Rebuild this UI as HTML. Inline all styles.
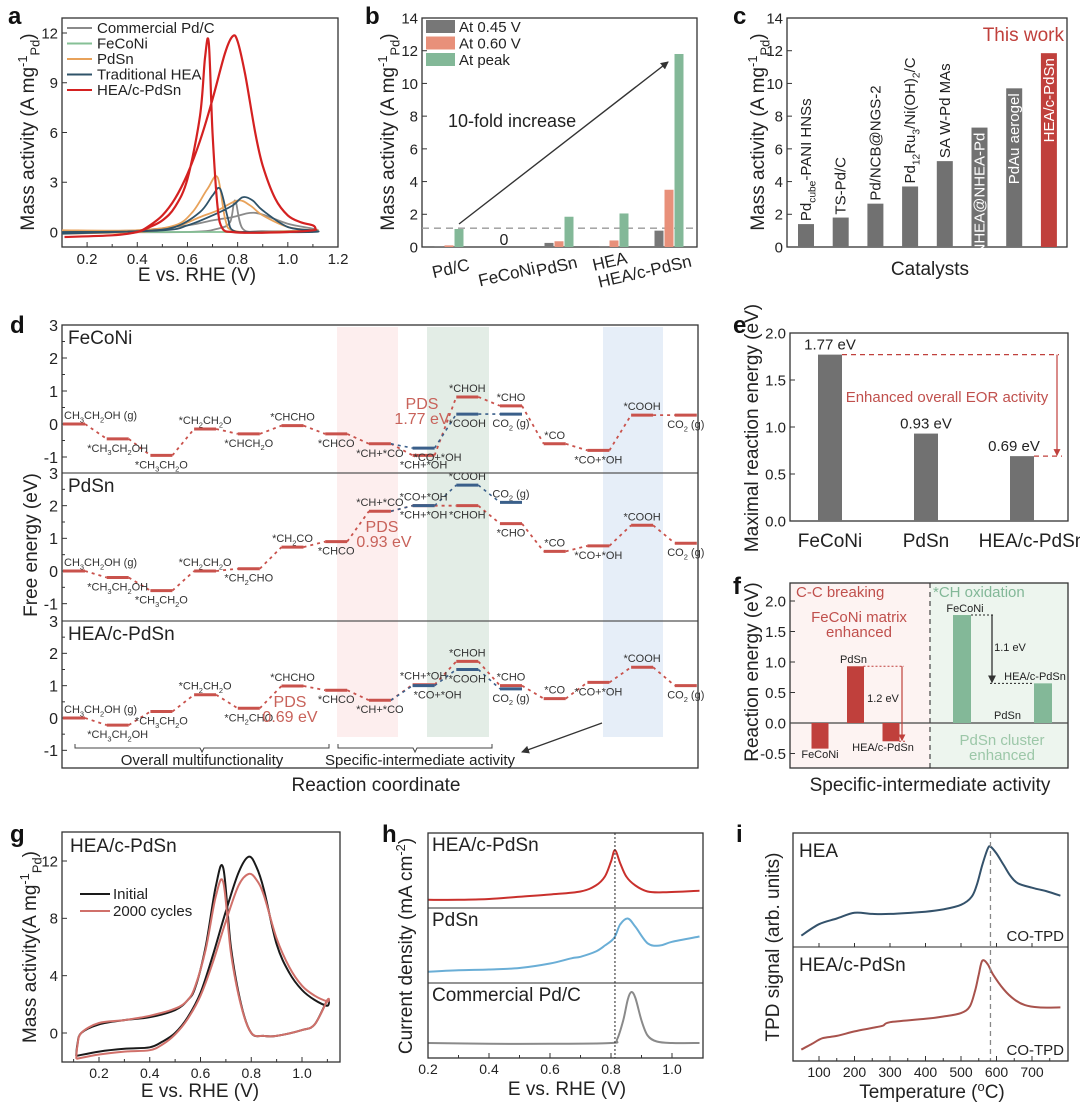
<!DOCTYPE html>
<html><head><meta charset="utf-8">
<style>
html,body{margin:0;padding:0;background:#fff;}
svg{display:block;font-family:"Liberation Sans",Arial,sans-serif;}
</style></head>
<body>
<svg id="fig" width="1080" height="1108" viewBox="0 0 1080 1108" xmlns="http://www.w3.org/2000/svg">
<defs>
<marker id="arrB" markerWidth="8" markerHeight="8" refX="7" refY="4" orient="auto" markerUnits="userSpaceOnUse"><path d="M0,0 L8,4 L0,8 z" fill="#333"/></marker>
<marker id="arrR" markerWidth="7" markerHeight="7" refX="6" refY="3.5" orient="auto" markerUnits="userSpaceOnUse"><path d="M0,0 L7,3.5 L0,7 z" fill="#c0403c"/></marker>
</defs>
</svg>
<script>
// ---------- DATA ----------
// panel a
const aRedX=[0.11,0.3,0.4,0.45,0.5,0.55,0.6,0.65,0.7,0.75,0.78,0.8,0.83,0.87,0.9,0.95,1.0,1.05,1.1,1.11,1.1,1.0,0.85,0.78,0.74,0.72,0.70,0.685,0.67,0.65,0.6,0.55,0.5,0.45,0.4,0.3,0.11];
const aRedY=[-0.3,-0.2,0,0.4,1,2,3.5,5.5,8,10.8,11.8,11.5,9.5,6,4,2,1,0.6,0.4,0.2,0.1,0,-0.05,0,0.2,1.5,6,11.4,10.5,7,3.2,1.5,0.7,0.3,0,-0.2,-0.3];
const aGrayX=[0.1,0.4,0.6,0.7,0.78,0.85,0.9,1.0,1.1,1.1,0.9,0.82,0.79,0.77,0.72,0.6,0.1];
const aGrayY=[0,0.1,0.4,0.7,0.9,1.15,1.05,0.5,0.2,0.1,0.05,0.2,1.9,0.6,0.2,0,0];
const aGreenX=[0.1,0.6,1.1];
const aGreenY=[0,0,0];
const aOrX=[0.1,0.4,0.55,0.65,0.72,0.8,0.85,0.9,1.0,1.1,1.1,0.9,0.78,0.75,0.72,0.68,0.62,0.55,0.4,0.1];
const aOrY=[-0.1,0,0.3,0.9,1.3,1.9,1.6,1.0,0.3,0.1,0.1,0,0.1,0.8,3.3,2.6,1.2,0.4,0.1,0.1];
const aBlX=[0.1,0.5,0.6,0.7,0.78,0.82,0.86,0.9,1.0,1.1,1.1,0.85,0.78,0.76,0.73,0.7,0.65,0.55,0.4,0.1];
const aBlY=[-0.1,0.1,0.4,1.0,1.6,2.1,1.9,1.3,0.3,0.1,0,0,0.1,0.9,2.6,2.2,1.2,0.3,0.05,0];
const aLegend=['Commercial Pd/C','FeCoNi','PdSn','Traditional HEA','HEA/c-PdSn'];
// panel b
const bCats=['Pd/C','FeCoNi','PdSn','HEA','HEA/c-PdSn'];
const bV045=[0.05,0,0.25,0.05,1.0];
const bV060=[0.1,0,0.35,0.4,3.5];
const bVpeak=[1.1,0,1.85,2.05,11.8];
const bRef=1.15;
const bTicks=[0,2,4,6,8,10,12,14];
// panel c
const cCats=['Pd_{cube}-PANI HNSs','TS-Pd/C','Pd/NCB@NGS-2','Pd_{12}Ru_{3}/Ni(OH)_{2}/C','SA W-Pd MAs','NHEA@NHEA-Pd','PdAu aerogel','HEA/c-PdSn'];
const cVals=[1.4,1.8,2.65,3.7,5.25,7.3,9.7,11.85];
const cTicks=[0,2,4,6,8,10,12,14];
// panel d
const dSteps=['CH3CH2OH (g)','*CH3CH2OH','*CH3CH2O','*CH2CH2O','X','X','*CHCO','*CH+*CO','*CH+*OH','*CHOH','*CHO','*CO','*CO+*OH','*COOH','CO2 (g)'];
const dStep45Fe=['*CHCH2O','*CHCHO'];
const dStep45Pd=['*CH2CHO','*CH2CO'];
const dStep45Hea=['*CH2CHO','*CHCHO'];
const dFeRed=[0,-0.45,-0.95,-0.15,-0.3,-0.05,-0.3,-0.6,-0.95,0.82,0.55,-0.6,-0.8,0.27,0.27];
const dPdRed=[0,-0.2,-0.6,0,0.07,0.73,0.9,1.83,2.0,2.0,1.45,0.6,0.77,1.4,0.85];
const dHeaRed=[0,-0.22,0.2,0.72,0.3,0.99,0.86,0.55,1.03,1.75,1.0,0.6,1.1,1.57,1.0];
const dBlueSteps=[8,9,10];
const dBlueLabels=['*CO+*OH','*COOH','CO2 (g)'];
const dFeBlue=[-0.73,0.3,0.3];
const dPdBlue=[2.0,2.63,2.1];
const dHeaBlue=[1.0,1.5,0.9];
const dFeSide=[1,0,0,1,0,1,0,0,0,1,1,1,0,1,0];
const dPdSide=[1,0,0,1,0,1,0,1,0,0,0,1,0,1,0];
const dHeaSide=[1,0,0,1,0,1,0,0,1,1,1,1,0,1,0];
const dFeBlueSide=[0,0,0];
const dPdBlueSide=[1,1,1];
const dHeaBlueSide=[0,0,0];
const dTicks=[3,2,1,0,-1];
// panel e
const eCats=['FeCoNi','PdSn','HEA/c-PdSn'];
const eVals=[1.77,0.93,0.69];
const eTicks=[0,0.5,1.0,1.5,2.0];
// panel f
const fLeftNames=['FeCoNi','PdSn','HEA/c-PdSn'];
const fLeftVals=[-0.42,0.93,-0.3];
const fRightNames=['FeCoNi','PdSn','HEA/c-PdSn'];
const fRightVals=[1.77,0.0,0.65];
const fTicks=[-0.5,0,0.5,1.0,1.5,2.0];
// panel g
const gInitX=[0.11,0.2,0.3,0.4,0.45,0.5,0.55,0.6,0.65,0.7,0.75,0.79,0.82,0.85,0.9,0.95,1.0,1.05,1.1,1.1,1.05,1.0,0.9,0.85,0.8,0.76,0.72,0.69,0.66,0.62,0.58,0.55,0.5,0.4,0.3,0.2,0.13,0.115,0.11];
const gInitY=[-1.6,-1.3,-1.1,-1.0,-0.6,0,1.1,2.8,5.5,8.5,11.2,12.3,11.6,10,6.2,4.2,3,2.3,1.9,2.3,0.6,0.2,-0.2,-0.2,0,2,6,11.5,10.2,6,3.2,2.3,1.6,1.1,0.9,0.6,0,-0.8,-1.6];
const gCycX=[0.11,0.2,0.3,0.4,0.45,0.5,0.55,0.6,0.65,0.7,0.75,0.79,0.82,0.85,0.9,0.95,1.0,1.05,1.1,1.1,1.05,1.0,0.9,0.85,0.8,0.76,0.72,0.69,0.66,0.62,0.58,0.55,0.5,0.4,0.3,0.2,0.13,0.115,0.11];
const gCycY=[-1.8,-1.5,-1.3,-1.2,-0.8,-0.1,1.0,2.6,5.0,7.8,10.3,11.1,10.7,9.6,6.6,4.6,3.3,2.6,2.2,2.3,0.6,0.2,-0.2,-0.2,0,1.9,5.6,10.5,9.5,5.8,3.3,2.3,1.7,1.2,0.9,0.7,0,-0.9,-1.8];
const gTicksY=[0,4,8,12];
const gTicksX=[0.2,0.4,0.6,0.8,1.0];
// panel h (normalized intensity per sub-panel)
const hRedX=[0.2,0.3,0.4,0.5,0.6,0.7,0.75,0.78,0.8,0.813,0.83,0.85,0.88,0.92,0.97,1.09];
const hRedY=[0.11,0.11,0.12,0.15,0.18,0.22,0.3,0.42,0.62,0.77,0.6,0.42,0.3,0.22,0.21,0.23];
const hBlueX=[0.2,0.3,0.4,0.5,0.6,0.67,0.7,0.75,0.78,0.81,0.83,0.855,0.88,0.92,0.96,1.0,1.09];
const hBlueY=[0.15,0.17,0.18,0.2,0.26,0.33,0.35,0.42,0.5,0.6,0.78,0.86,0.75,0.53,0.5,0.55,0.62];
const hGrayX=[0.2,0.4,0.6,0.8,0.82,0.84,0.855,0.867,0.88,0.9,0.92,0.95,1.0,1.09];
const hGrayY=[0.2,0.19,0.19,0.2,0.25,0.5,0.78,0.88,0.8,0.5,0.3,0.22,0.2,0.2];
const hTicksX=[0.2,0.4,0.6,0.8,1.0];
const hPeakLine=0.813;
// panel i
const iHeaX=[50,100,150,200,250,300,400,450,500,530,545,560,575,583,600,620,640,660,700,740,780];
const iHeaY=[0.1,0.2,0.25,0.3,0.29,0.29,0.31,0.33,0.37,0.44,0.55,0.72,0.86,0.88,0.82,0.72,0.62,0.56,0.52,0.49,0.45];
const iPdX=[50,80,110,150,200,250,280,300,400,450,500,525,540,550,560,575,590,620,650,680,720,780];
const iPdY=[0.1,0.15,0.2,0.22,0.26,0.29,0.31,0.34,0.37,0.39,0.42,0.48,0.62,0.76,0.88,0.85,0.76,0.63,0.54,0.49,0.47,0.47];
const iTicksX=[100,200,300,400,500,600,700];
const iDash=583;

// ---------- HELPERS ----------
const NS='http://www.w3.org/2000/svg';
const svg=document.getElementById('fig');
function mk(tag,attrs,name,parent){
  const el=document.createElementNS(NS,tag);
  for(const k in attrs) el.setAttribute(k,attrs[k]);
  
  
  (parent||svg).appendChild(el);
  return el;
}
function lin(d0,d1,r0,r1){return v=>r0+(v-d0)*(r1-r0)/(d1-d0);}
function rich(x,y,s,size,opts,name){
  const o=Object.assign({anchor:'start',fill:'#222',rot:0,weight:'normal'},opts||{});
  const at={x:x,y:y,'font-size':size,'text-anchor':o.anchor,fill:o.fill,'font-weight':o.weight};
  if(o.rot) at.transform='rotate('+o.rot+' '+x+' '+y+')';
  const t=mk('text',at,name);
  const re=/_\{([^}]*)\}|\^\{([^}]*)\}|([^_^]+)/g;let m;let shift=0;
  while((m=re.exec(s))){
    const sp=document.createElementNS(NS,'tspan');
    let target=0,fs=size;
    if(m[1]!==undefined){target=size*0.3;fs=size*0.68;sp.textContent=m[1];}
    else if(m[2]!==undefined){target=-size*0.38;fs=size*0.68;sp.textContent=m[2];}
    else {sp.textContent=m[3];}
    sp.setAttribute('dy',target-shift);shift=target;
    sp.setAttribute('font-size',fs);
    t.appendChild(sp);
  }
  return t;
}
function chem(s){return s.replace(/(\d)/g,'_{$1}');}
function frame(x0,y0,x1,y1,name){mk('rect',{x:x0,y:y0,width:x1-x0,height:y1-y0,fill:'none',stroke:'#333','stroke-width':1.3},name);}
// smooth Catmull-Rom path through data points
function pathD(xs,ys,sx,sy){
  const p=xs.map((v,i)=>[sx(v),sy(ys[i])]);
  let d='M'+p[0][0].toFixed(1)+','+p[0][1].toFixed(1);
  const t=0.5/3;
  for(let i=0;i<p.length-1;i++){
    const p0=p[Math.max(i-1,0)],p1=p[i],p2=p[i+1],p3=p[Math.min(i+2,p.length-1)];
    const c1=[p1[0]+(p2[0]-p0[0])*t,p1[1]+(p2[1]-p0[1])*t];
    const c2=[p2[0]-(p3[0]-p1[0])*t,p2[1]-(p3[1]-p1[1])*t];
    d+=' C'+c1[0].toFixed(1)+','+c1[1].toFixed(1)+' '+c2[0].toFixed(1)+','+c2[1].toFixed(1)+' '+p2[0].toFixed(1)+','+p2[1].toFixed(1);
  }
  return d;
}
function xTicks(sx,vals,yb,fmt,size,name,len){vals.forEach(v=>{const x=sx(v);
  mk('line',{x1:x,x2:x,y1:yb,y2:yb-(len||5),stroke:'#333','stroke-width':1},name+'-tick');
  if(fmt) rich(x,yb+size+2,fmt(v),size,{anchor:'middle'},name+'-label');});}
function yTicks(sy,vals,xl,fmt,size,name,len){vals.forEach(v=>{const y=sy(v);
  mk('line',{x1:xl,x2:xl+(len||5),y1:y,y2:y,stroke:'#333','stroke-width':1},name+'-tick');
  if(fmt) rich(xl-4,y+size*0.36,fmt(v),size,{anchor:'end'},name+'-label');});}

// panel letters
[['a',8,24],['b',365,24],['c',733,24],['d',10,333],['e',733,333],['f',733,594],['g',10,842],['h',382,842],['i',736,842]].forEach(p=>{
  rich(p[1],p[2],p[0],24,{weight:'bold',fill:'#111'},'panel-letter-'+p[0]);});

// ---------- PANEL A ----------
(function(){
  const sx=lin(0.1,1.2,62,338), sy=lin(0,12,232,33);
  frame(62,18,338,247,'panel-a-frame');
  xTicks(sx,[0.2,0.4,0.6,0.8,1.0,1.2],247,v=>v.toFixed(1),15,'a-x');
  xTicks(sx,[0.3,0.5,0.7,0.9,1.1],247,null,15,'a-x-minor',3);
  yTicks(sy,[0,3,6,9,12],62,v=>String(v),15,'a-y');
  const series=[[aGrayX,aGrayY,'#8a8a8a','series-commercial-pdc'],[aGreenX,aGreenY,'#86c096','series-feconi'],[aOrX,aOrY,'#e8a25a','series-pdsn'],[aBlX,aBlY,'#2f5369','series-traditional-hea'],[aRedX,aRedY,'#d42121','series-hea-c-pdsn']];
  series.forEach(s=>{mk('path',{d:pathD(s[0],s[1],sx,sy),fill:'none',stroke:s[2],'stroke-width':s[2]==='#d42121'?2.2:1.8,'stroke-linejoin':'round'},s[3]);});
  const cols=['#8a8a8a','#86c096','#e8a25a','#2f5369','#d42121'];
  aLegend.forEach((l,i)=>{const y=28+i*15.5;
    mk('line',{x1:67,x2:92,y1:y,y2:y,stroke:cols[i],'stroke-width':2},'legend-line');
    rich(97,y+5,l,15,{},'legend-entry');});
  rich(197,281,'E vs. RHE (V)',19,{anchor:'middle'},'a-x-axis-title');
  rich(34,132,'Mass activity (A mg^{-1}_{Pd})',19,{anchor:'middle',rot:-90},'a-y-axis-title');
})();

// ---------- PANEL B ----------
(function(){
  const sy=lin(0,14,247,18); const cx=i=>449+i*55;
  frame(422,18,697,247,'panel-b-frame');
  yTicks(sy,bTicks,422,v=>String(v),15,'b-y');
  mk('line',{x1:422,x2:697,y1:sy(bRef),y2:sy(bRef),stroke:'#999','stroke-width':1.3,'stroke-dasharray':'7 5'},'b-reference-line');
  const sets=[[bV045,-10,'#777'],[bV060,0,'#e8907a'],[bVpeak,10,'#83b898']];
  sets.forEach((s,k)=>{s[0].forEach((v,i)=>{
    const b=mk('rect',{x:cx(i)+s[1]-4.5,y:sy(v),width:9,height:sy(0)-sy(v),fill:s[2]},'bar');
    });});
  rich(cx(1),245,'0',16,{anchor:'middle'},'b-zero-label');
  mk('line',{x1:459,y1:224,x2:668,y2:62,stroke:'#333','stroke-width':1.4,'marker-end':'url(#arrB)'},'b-increase-arrow');
  rich(448,127,'10-fold increase',18,{},'b-annotation');
  const lc=['#777','#e8907a','#83b898'],ll=['At 0.45 V','At 0.60 V','At peak'];
  ll.forEach((l,i)=>{const y=27+i*16.5;
    mk('rect',{x:426,y:y-7,width:29,height:13,fill:lc[i]},'legend-swatch');
    rich(459,y+5,l,15,{},'legend-entry');});
  [[452,274],[508,280],[558,272],[611,267],[646,277]].forEach((p,i)=>{rich(p[0],p[1],bCats[i],17,{anchor:'middle',rot:-13},'b-category-label');});
  rich(394,132,'Mass activity (A mg^{-1}_{Pd})',19,{anchor:'middle',rot:-90},'b-y-axis-title');
})();

// ---------- PANEL C ----------
(function(){
  const sy=lin(0,14,247,18); const cx=i=>806+i*34.7;
  frame(787,18,1067,247,'panel-c-frame');
  yTicks(sy,cTicks,787,v=>String(v),15,'c-y');
  cVals.forEach((v,i)=>{
    const b=mk('rect',{x:cx(i)-8,y:sy(v),width:16,height:sy(0)-sy(v),fill:i===7?'#c0403c':'#717171'},'bar');
    
    if(i<5) rich(cx(i)+5,sy(v)-3,cCats[i],15,{rot:-90},'c-bar-label');
    else rich(cx(i)+5,sy(v)+5,cCats[i],15,{rot:-90,anchor:'end',fill:'#fff'},'c-bar-label');
  });
  rich(1064,41,'This work',19,{anchor:'end',fill:'#c0403c'},'c-this-work-label');
  rich(930,275,'Catalysts',19,{anchor:'middle'},'c-x-axis-title');
  rich(764,132,'Mass activity (A mg^{-1}_{Pd})',19,{anchor:'middle',rot:-90},'c-y-axis-title');
})();

// ---------- PANEL D ----------
(function(){
  const L=62,R=698,T=325,B=768;
  [[337,398,'#fdeeee'],[427,489,'#e3ede6'],[603,663,'#e6eef8']].forEach((b,i)=>{
    mk('rect',{x:b[0],y:327,width:b[1]-b[0],height:410,fill:b[2]},'d-highlight-band-'+i);});
  const sx=i=>63+i*43.7; const W=22;
  const subs=[{name:'FeCoNi',top:325,zero:424,red:dFeRed,blue:dFeBlue,side:dFeSide,bside:dFeBlueSide,s45:dStep45Fe},
              {name:'PdSn',top:473,zero:571,red:dPdRed,blue:dPdBlue,side:dPdSide,bside:dPdBlueSide,s45:dStep45Pd},
              {name:'HEA/c-PdSn',top:621,zero:718,red:dHeaRed,blue:dHeaBlue,side:dHeaSide,bside:dHeaBlueSide,s45:dStep45Hea}];
  const red='#c9524c',blue='#3a5f8a';
  subs.forEach((s,k)=>{
    const sy=lin(0,3,s.zero,s.top);
    yTicks(sy,dTicks,L,v=>String(v),16,'d-y');
    yTicks(sy,[2.5,1.5,0.5,-0.5],L,null,16,'d-y-minor',3);
    rich(68,s.top+19,s.name,19,{},'d-subpanel-title');
    for(let i=0;i<s.red.length-1;i++){
      mk('line',{x1:sx(i)+W,y1:sy(s.red[i]),x2:sx(i+1),y2:sy(s.red[i+1]),stroke:red,'stroke-width':1.8,'stroke-dasharray':'3 4'},'d-connector');}
    let px=sx(7)+W,py=sy(s.red[7]);
    dBlueSteps.forEach((st,j)=>{const y=sy(s.blue[j]);
      mk('line',{x1:px,y1:py,x2:sx(st),y2:y,stroke:blue,'stroke-width':1.6,'stroke-dasharray':'3 4'},'d-blue-connector');
      px=sx(st)+W;py=y;});
    s.red.forEach((e,i)=>{const y=sy(e);
      const l=mk('line',{x1:sx(i),x2:sx(i)+W,y1:y,y2:y,stroke:red,'stroke-width':3},'level');
      
      let lab=dSteps[i]; if(i===4) lab=s.s45[0]; if(i===5) lab=s.s45[1];
      const up=s.side[i]===1; const ty=up?y-5:y+13;
      if(i===0) rich(sx(i)+1,ty,chem(lab),11,{fill:'#333'},'d-level-label');
      else rich(sx(i)+W/2,ty,chem(lab),11,{anchor:'middle',fill:'#333'},'d-level-label');
    });
    dBlueSteps.forEach((st,j)=>{const y=sy(s.blue[j]);
      const l=mk('line',{x1:sx(st),x2:sx(st)+W,y1:y,y2:y,stroke:blue,'stroke-width':3},'level');
      
      const up=s.bside[j]===1; const ty=up?y-5:y+13;
      rich(sx(st)+W/2+(j===0&&!up?14:0),ty,chem(dBlueLabels[j]),11,{anchor:'middle',fill:'#333'},'d-level-label');
    });
  });
  mk('line',{x1:L,x2:R,y1:473,y2:473,stroke:'#555','stroke-width':1.3},'d-divider');
  mk('line',{x1:L,x2:R,y1:621,y2:621,stroke:'#555','stroke-width':1.3},'d-divider');
  frame(L,T,R,B,'panel-d-frame');
  const pc='#c8625a';
  rich(422,409,'PDS',16,{anchor:'middle',fill:pc},'d-pds-label');
  rich(422,424,'1.77 eV',16,{anchor:'middle',fill:pc},'d-pds-value');
  rich(382,532,'PDS',16,{anchor:'middle',fill:pc},'d-pds-label');
  rich(384,547,'0.93 eV',16,{anchor:'middle',fill:pc},'d-pds-value');
  rich(290,707,'PDS',16,{anchor:'middle',fill:pc},'d-pds-label');
  rich(290,722,'0.69 eV',16,{anchor:'middle',fill:pc},'d-pds-value');
  mk('path',{d:'M75,744 v4 H200 l2,4 l2,-4 H329 v-4',fill:'none',stroke:'#444','stroke-width':1},'d-bracket-overall');
  mk('path',{d:'M338,744 v4 H413 l2,4 l2,-4 H492 v-4',fill:'none',stroke:'#444','stroke-width':1},'d-bracket-specific');
  rich(202,765,'Overall multifunctionality',15,{anchor:'middle'},'d-bracket-label');
  rich(420,765,'Specific-intermediate activity',15,{anchor:'middle'},'d-bracket-label');
  mk('line',{x1:602,y1:723,x2:522,y2:752,stroke:'#333','stroke-width':1.2,'marker-end':'url(#arrB)'},'d-pointer-arrow');
  rich(376,791,'Reaction coordinate',19,{anchor:'middle'},'d-x-axis-title');
  rich(37,545,'Free energy (eV)',19,{anchor:'middle',rot:-90},'d-y-axis-title');
})();

// ---------- PANEL E ----------
(function(){
  const sy=lin(0,2,521,333); const cx=i=>830+i*96;
  frame(790,333,1068,521,'panel-e-frame');
  yTicks(sy,eTicks,790,v=>v.toFixed(1),15,'e-y');
  eVals.forEach((v,i)=>{
    const b=mk('rect',{x:cx(i)-12,y:sy(v),width:24,height:sy(0)-sy(v),fill:'#717171'},'bar');
    
    rich(cx(i)+(i===2?-8:0),sy(v)-5,v.toFixed(2)+' eV',15,{anchor:'middle'},'e-value-label');
    rich(cx(i)+(i===2?10:0),547,eCats[i],19,{anchor:'middle'},'e-category-label');
  });
  const rc='#c0403c';
  mk('line',{x1:cx(0)+12,x2:1059,y1:sy(eVals[0]),y2:sy(eVals[0]),stroke:rc,'stroke-width':1.2,'stroke-dasharray':'5 4'},'e-dash-line');
  mk('line',{x1:cx(2)+12,x2:1062,y1:sy(eVals[2]),y2:sy(eVals[2]),stroke:rc,'stroke-width':1.2,'stroke-dasharray':'5 4'},'e-dash-line');
  mk('line',{x1:1057,x2:1057,y1:sy(eVals[0]),y2:sy(eVals[2])-1,stroke:rc,'stroke-width':1.2,'marker-end':'url(#arrR)'},'e-arrow');
  rich(947,402,'Enhanced overall EOR activity',15,{anchor:'middle',fill:'#c0504d'},'e-annotation');
  rich(758,428,'Maximal reaction energy (eV)',19,{anchor:'middle',rot:-90},'e-y-axis-title');
})();

// ---------- PANEL F ----------
(function(){
  const sy=lin(0,2,723,601);
  mk('rect',{x:790,y:583,width:140,height:185,fill:'#fdf3f2'},'f-left-background');
  mk('rect',{x:930,y:583,width:138,height:185,fill:'#edf5ee'},'f-right-background');
  mk('line',{x1:930,x2:930,y1:583,y2:768,stroke:'#444','stroke-width':1.2,'stroke-dasharray':'5 4'},'f-separator');
  frame(790,583,1068,768,'panel-f-frame');
  yTicks(sy,fTicks,790,v=>v.toFixed(1),15,'f-y');
  mk('line',{x1:790,x2:1068,y1:sy(0),y2:sy(0),stroke:'#444','stroke-width':1.2},'f-zero-line');
  const lx=i=>820+i*35.5, rx=i=>962+i*40.5;
  fLeftVals.forEach((v,i)=>{const y0=sy(Math.max(v,0)),y1=sy(Math.min(v,0));
    const b=mk('rect',{x:lx(i)-8.5,y:y0,width:17,height:y1-y0,fill:'#c0403c'},'bar');
    });
  fRightVals.forEach((v,i)=>{const y0=sy(Math.max(v,0)),y1=sy(Math.min(v,0));
    const b=mk('rect',{x:rx(i)-9,y:y0,width:18,height:Math.max(y1-y0,0),fill:'#83b898'},'bar');
    });
  rich(lx(0),758,fLeftNames[0],11,{anchor:'middle'},'f-bar-label');
  rich(lx(1)-2,663,fLeftNames[1],11,{anchor:'middle'},'f-bar-label');
  rich(lx(2)-8,751,fLeftNames[2],11,{anchor:'middle'},'f-bar-label');
  rich(rx(0)+3,612,fRightNames[0],11,{anchor:'middle'},'f-bar-label');
  rich(rx(1)+5,719,fRightNames[1],11,{anchor:'middle'},'f-bar-label');
  rich(rx(2)-8,680,fRightNames[2],11,{anchor:'middle'},'f-bar-label');
  mk('line',{x1:lx(1)+8,x2:904,y1:sy(fLeftVals[1]),y2:sy(fLeftVals[1]),stroke:'#c0403c','stroke-width':1,'stroke-dasharray':'2 2'},'f-dot-line');
  mk('line',{x1:lx(2)+8,x2:906,y1:sy(fLeftVals[2]),y2:sy(fLeftVals[2]),stroke:'#c0403c','stroke-width':1,'stroke-dasharray':'2 2'},'f-dot-line');
  mk('line',{x1:902,x2:902,y1:sy(fLeftVals[1]),y2:sy(fLeftVals[2])-1,stroke:'#c0403c','stroke-width':1.2,'marker-end':'url(#arrR)'},'f-arrow-red');
  rich(883,702,'1.2 eV',11,{anchor:'middle'},'f-delta-label');
  mk('line',{x1:rx(0)+9,x2:994,y1:sy(fRightVals[0]),y2:sy(fRightVals[0]),stroke:'#222','stroke-width':1,'stroke-dasharray':'2 2'},'f-dot-line');
  mk('line',{x1:990,x2:rx(2)-9,y1:sy(fRightVals[2]),y2:sy(fRightVals[2]),stroke:'#222','stroke-width':1,'stroke-dasharray':'2 2'},'f-dot-line');
  mk('line',{x1:992,x2:992,y1:sy(fRightVals[0]),y2:sy(fRightVals[2])-1,stroke:'#222','stroke-width':1.2,'marker-end':'url(#arrB)'},'f-arrow-black');
  rich(1010,651,'1.1 eV',11,{anchor:'middle'},'f-delta-label');
  rich(796,597,'C-C breaking',15,{fill:'#c0504d'},'f-region-label');
  rich(859,622,'FeCoNi matrix',15,{anchor:'middle',fill:'#c0504d'},'f-region-label');
  rich(859,637,'enhanced',15,{anchor:'middle',fill:'#c0504d'},'f-region-label');
  rich(933,597,'*CH oxidation',15,{fill:'#83b898'},'f-region-label');
  rich(1002,745,'PdSn cluster',15,{anchor:'middle',fill:'#9cc7a8'},'f-region-label');
  rich(1002,760,'enhanced',15,{anchor:'middle',fill:'#9cc7a8'},'f-region-label');
  rich(930,791,'Specific-intermediate activity',19,{anchor:'middle'},'f-x-axis-title');
  rich(758,672,'Reaction energy (eV)',19,{anchor:'middle',rot:-90},'f-y-axis-title');
})();

// ---------- PANEL G ----------
(function(){
  const sx=lin(0.2,1.0,99,302), sy=lin(0,12,1033,861);
  frame(62,832,340,1062,'panel-g-frame');
  xTicks(sx,gTicksX,1062,v=>v.toFixed(1),14,'g-x');
  xTicks(sx,[0.1,0.3,0.5,0.7,0.9,1.1],1062,null,14,'g-x-minor',3);
  yTicks(sy,gTicksY,62,v=>String(v),15,'g-y');
  mk('path',{d:pathD(gInitX,gInitY,sx,sy),fill:'none',stroke:'#1a1a1a','stroke-width':2,'stroke-linejoin':'round'},'series-initial');
  mk('path',{d:pathD(gCycX,gCycY,sx,sy),fill:'none',stroke:'#d0706a','stroke-width':2,'stroke-linejoin':'round'},'series-2000-cycles');
  rich(70,852,'HEA/c-PdSn',19,{},'g-sample-label');
  mk('line',{x1:80,x2:110,y1:894,y2:894,stroke:'#1a1a1a','stroke-width':2},'legend-line');
  rich(113,899,'Initial',15,{},'legend-entry');
  mk('line',{x1:80,x2:110,y1:911,y2:911,stroke:'#d0706a','stroke-width':2},'legend-line');
  rich(113,916,'2000 cycles',15,{},'legend-entry');
  rich(200,1097,'E vs. RHE (V)',19,{anchor:'middle'},'g-x-axis-title');
  rich(36,947,'Mass activity(A mg^{-1}_{Pd})',19,{anchor:'middle',rot:-90},'g-y-axis-title');
})();

// ---------- PANEL H ----------
(function(){
  const sx=lin(0.2,1.0,428,672);
  const subsH=[[833,908,hRedX,hRedY,'#c9302c','series-hea-c-pdsn','HEA/c-PdSn'],[908,983,hBlueX,hBlueY,'#6aaed6','series-pdsn','PdSn'],[983,1058,hGrayX,hGrayY,'#8a8a8a','series-commercial-pdc','Commercial Pd/C']];
  subsH.forEach(s=>{const sy=lin(0,1,s[1],s[0]);
    mk('path',{d:pathD(s[2],s[3],sx,sy),fill:'none',stroke:s[4],'stroke-width':2},s[5]);
    rich(432,s[0]+18,s[6],19,{},'h-sample-label');});
  mk('line',{x1:428,x2:703,y1:908,y2:908,stroke:'#555','stroke-width':1.2},'h-divider');
  mk('line',{x1:428,x2:703,y1:983,y2:983,stroke:'#555','stroke-width':1.2},'h-divider');
  mk('line',{x1:sx(hPeakLine),x2:sx(hPeakLine),y1:833,y2:1058,stroke:'#222','stroke-width':1,'stroke-dasharray':'2 2'},'h-peak-line');
  frame(428,833,703,1058,'panel-h-frame');
  xTicks(sx,hTicksX,1058,v=>v.toFixed(1),14,'h-x');
  xTicks(sx,[0.3,0.5,0.7,0.9],1058,null,14,'h-x-minor',3);
  rich(567,1095,'E vs. RHE (V)',19,{anchor:'middle'},'h-x-axis-title');
  rich(412,946,'Current density (mA cm^{-2})',19,{anchor:'middle',rot:-90},'h-y-axis-title');
})();

// ---------- PANEL I ----------
(function(){
  const sx=lin(100,700,819,1032);
  const subsI=[[833,947,iHeaX,iHeaY,'#34526b','series-hea','HEA'],[947,1061,iPdX,iPdY,'#a8524c','series-hea-c-pdsn','HEA/c-PdSn']];
  subsI.forEach(s=>{const sy=lin(0,1,s[1],s[0]);
    mk('path',{d:pathD(s[2],s[3],sx,sy),fill:'none',stroke:s[4],'stroke-width':2},s[5]);
    rich(799,s[0]+24,s[6],19,{},'i-sample-label');
    rich(1064,s[1]-6,'CO-TPD',15,{anchor:'end'},'i-method-label');});
  mk('line',{x1:793,x2:1068,y1:947,y2:947,stroke:'#555','stroke-width':1.2},'i-divider');
  mk('line',{x1:sx(iDash),x2:sx(iDash),y1:833,y2:1061,stroke:'#888','stroke-width':1.3,'stroke-dasharray':'5 4'},'i-peak-line');
  frame(793,833,1068,1061,'panel-i-frame');
  xTicks(sx,iTicksX,1061,v=>String(v),14,'i-x');
  xTicks(sx,[150,250,350,450,550,650,750],1061,null,14,'i-x-minor',3);
  xTicks(sx,[100,200,300,400,500,600,700],947,null,14,'i-x-mid',4);
  rich(932,1098,'Temperature (^{o}C)',19,{anchor:'middle'},'i-x-axis-title');
  rich(779,947,'TPD signal (arb. units)',19,{anchor:'middle',rot:-90},'i-y-axis-title');
})();
</script>
</body></html>
